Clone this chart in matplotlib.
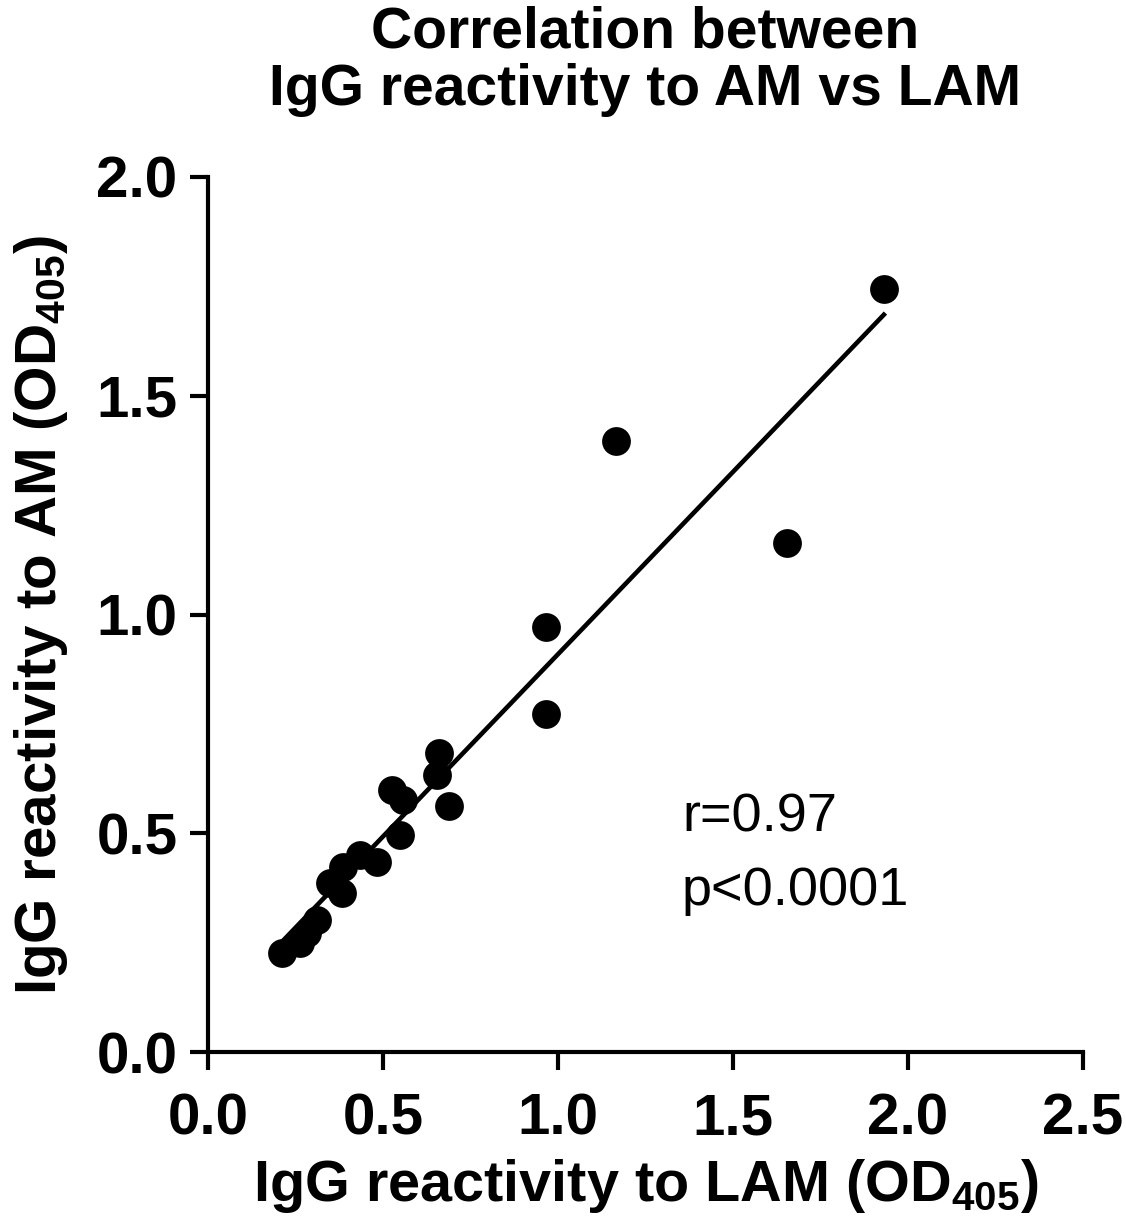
import numpy as np
import matplotlib
matplotlib.use("Agg")
import matplotlib.pyplot as plt

plt.rcParams['font.family'] = ['Liberation Sans', 'DejaVu Sans']
plt.rcParams['mathtext.default'] = 'regular'

# IgG reactivity (OD405)
lam = [1.931, 1.166, 1.654, 0.966, 0.966, 0.660, 0.654, 0.526, 0.557, 0.689,
       0.549, 0.483, 0.434, 0.386, 0.349, 0.383, 0.311, 0.283, 0.263, 0.211]
am = [1.744, 1.397, 1.163, 0.971, 0.773, 0.683, 0.633, 0.599, 0.576, 0.562,
      0.496, 0.434, 0.450, 0.423, 0.386, 0.363, 0.302, 0.272, 0.249, 0.226]

x_ticks = [0.0, 0.5, 1.0, 1.5, 2.0, 2.5]
y_ticks = [0.0, 0.5, 1.0, 1.5, 2.0]
stats_lines = ["r=0.97", "p<0.0001"]

x = np.array(lam)
y = np.array(am)

fig = plt.figure(figsize=(11.26, 12.22), dpi=100)
ax = fig.add_axes([208 / 1126, 1 - 1052 / 1222, 875 / 1126, 875 / 1222])

ax.scatter(x, y, s=430, color='black', linewidths=0, zorder=3, clip_on=False)

slope, intercept = np.polyfit(x, y, 1)
xs = np.array([x.min(), x.max()])
ax.plot(xs, slope * xs + intercept, color='black', lw=3.3, zorder=2)

ax.set_xlim(0, 2.5)
ax.set_ylim(0, 2.0)
ax.set_xticks(x_ticks)
ax.set_yticks(y_ticks)
ax.set_xticklabels([f"{t:.1f}" for t in x_ticks])
ax.set_yticklabels([f"{t:.1f}" for t in y_ticks])

for side in ['top', 'right']:
    ax.spines[side].set_visible(False)
for side in ['left', 'bottom']:
    ax.spines[side].set_linewidth(3)

ax.tick_params(axis='both', width=3, length=13, labelsize=42, direction='out')
ax.tick_params(axis='x', pad=16)
ax.tick_params(axis='y', pad=9)
for lbl in ax.get_xticklabels() + ax.get_yticklabels():
    lbl.set_fontweight('bold')

ax.set_xlabel('IgG reactivity to LAM (OD$_{405}$)', fontsize=41.5,
              fontweight='bold', labelpad=8)
ax.set_ylabel('IgG reactivity to AM (OD$_{405}$)', fontsize=42,
              fontweight='bold', labelpad=19)

# stats annotation, two lines
for i, line in enumerate(stats_lines):
    fig.text(682 / 1126, 1 - (832 + 73 * i) / 1222, line, fontsize=39,
             va='baseline', ha='left')

fig.text(645 / 1126, 1 - 48 / 1222, 'Correlation between', fontsize=41,
         fontweight='bold', ha='center', va='baseline')
fig.text(645 / 1126, 1 - 105 / 1222, 'IgG reactivity to AM vs LAM', fontsize=41,
         fontweight='bold', ha='center', va='baseline')

fig.savefig('out.png', dpi=100)
